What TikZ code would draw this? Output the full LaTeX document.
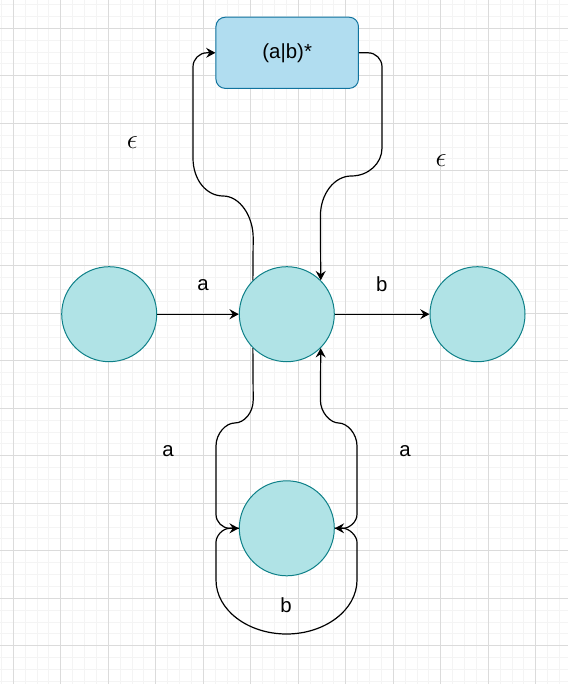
\documentclass[tikz,border=0pt]{standalone}
\usepackage{fontspec}
\setmainfont{Liberation Sans}
\usetikzlibrary{arrows.meta}
\definecolor{statefill}{HTML}{B0E3E6}
\definecolor{statedraw}{HTML}{0E8088}
\definecolor{boxfill}{HTML}{B1DDF0}
\definecolor{boxdraw}{HTML}{10739E}
\tikzstyle{every node}=[font=\fontsize{15.3}{18}\selectfont]
\tikzstyle{state} = [circle, draw=statedraw, fill=statefill, line width=0.75pt, minimum size=71.25pt, inner sep=0pt]
\tikzstyle{block} = [rectangle, draw=boxdraw, fill=boxfill, line width=0.75pt, rounded corners=7pt, minimum width=106.9pt, minimum height=53.4pt]
\tikzstyle{line} = [draw, line width=0.9pt, -{Stealth[length=7pt,width=7.5pt,inset=2.5pt]}]
\tikzstyle{eps} = [font=\fontsize{20}{22}\selectfont]
\tikzstyle{minorgrid} = [draw=gray!9, line width=0.75pt]
\tikzstyle{majorgrid} = [draw=gray!28, line width=0.75pt]

\begin{document}
\begin{tikzpicture}[x=0.75pt, y=-0.75pt]
    \useasboundingbox (0,0) rectangle (568,684);
    \fill [white] (0,0) rectangle (568,684);
    % Grid
    \foreach \k in {0,...,47} \path [minorgrid] (1.45+11.875*\k,0) -- (1.45+11.875*\k,684);
    \foreach \k in {0,...,57} \path [minorgrid] (0,4.55+11.875*\k) -- (568,4.55+11.875*\k);
    \foreach \k in {0,...,11} \path [majorgrid] (13.3+47.5*\k,0) -- (13.3+47.5*\k,684);
    \foreach \k in {0,...,13} \path [majorgrid] (0,28.3+47.5*\k) -- (568,28.3+47.5*\k);
    % Place nodes
    \node [block] (star) at (287.2,52.8) {(a|b)*};
    \node [state] (start) at (109.2,314.2) {};
    \node [state] (mid) at (286.8,314.2) {};
    \node [state] (final) at (477.5,314.2) {};
    \node [state] (loop) at (286.8,528.3) {};
    % Draw edges
    \path [line] (start) -- (mid);
    \path [line] (mid) -- (final);
    \path [line] (mid.135) -- (253.2,238) .. controls (253.2,216) and (239.7,196) .. (223.1,196)
        .. controls (206.5,196) and (193,180) .. (193,158) -- (193,66.8)
        .. controls (193,59.1) and (199.3,52.8) .. (207,52.8) -- (star.west);
    \path [line] (star.east) -- (368,52.8) .. controls (375.7,52.8) and (382,59.1) .. (382,66.8)
        -- (382,148) .. controls (382,163.4) and (368.5,176) .. (351.2,176)
        .. controls (334.3,176) and (320.4,194) .. (320.4,216) -- (mid.45);
    \path [line] (mid.225) -- (253.2,400) .. controls (253.2,412.6) and (244.4,423) .. (234.6,423)
        .. controls (226,423) and (216,433.4) .. (216,446) -- (216,514.3)
        .. controls (216,522) and (222.3,528.3) .. (230,528.3) -- (loop.west);
    \path [line] (loop.east) -- (343,528.3) .. controls (349.3,528.3) and (357,522) .. (357,514.3)
        -- (357,446) .. controls (357,433.4) and (347,423) .. (338.7,423)
        .. controls (330.4,423) and (320.4,412.6) .. (320.4,400) -- (mid.315);
    \path [line] (loop.west) -- (230,528.3) .. controls (222.3,528.3) and (216,536) .. (216,542.3)
        -- (216,580) .. controls (216,610) and (248,634) .. (286.5,634)
        .. controls (325,634) and (357,610) .. (357,580) -- (357,542.3)
        .. controls (357,536) and (349.3,528.3) .. (343,528.3) -- (loop.east);
    % Labels
    \node (la) at (203,285) {a};
    \node (lb) at (381.7,284) {b};
    \node [eps] (leps) at (132.3,143) {$\epsilon$};
    \node [eps] (reps) at (441,161) {$\epsilon$};
    \node (dla) at (168,451) {a};
    \node (dra) at (405,451) {a};
    \node (lpb) at (286,605) {b};
\end{tikzpicture}
\end{document}
